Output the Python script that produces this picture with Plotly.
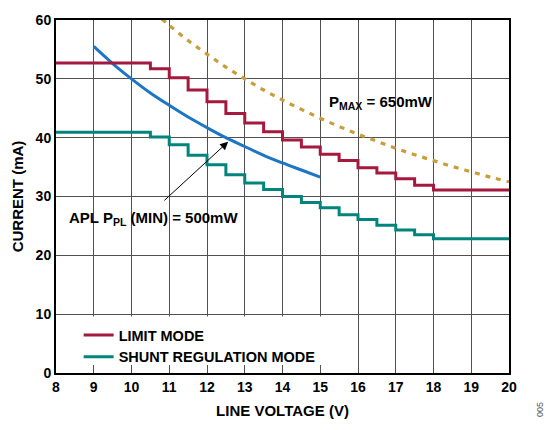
import plotly.graph_objects as go

# ---- data ----
limit_v = [8, 10.5, 11, 11.5, 12, 12.5, 13, 13.5, 14, 14.5, 15, 15.5, 16, 16.5, 17, 17.5, 18, 20]
limit_i = [52.7, 51.7, 50.2, 48.1, 46.1, 44.1, 42.5, 41.0, 39.6, 38.4, 37.2, 36.1, 34.9, 34.0, 33.0, 31.9, 31.1, 31.1]

shunt_v = [8, 10.5, 11, 11.5, 12, 12.5, 13, 13.5, 14, 14.5, 15, 15.5, 16, 16.5, 17, 17.5, 18, 20]
shunt_i = [40.9, 40.1, 38.8, 37.0, 35.4, 33.7, 32.3, 31.2, 30.0, 29.0, 28.1, 26.9, 26.1, 25.1, 24.3, 23.5, 22.8, 22.8]

apl_v = [9, 9.5, 10, 10.5, 11, 11.5, 12, 12.5, 13, 13.5, 14, 14.5, 15]
apl_i = [55.5, 52.6, 50.0, 47.6, 45.5, 43.5, 41.7, 40.0, 38.5, 37.0, 35.7, 34.5, 33.3]

pmax_v = [10.8, 11, 11.5, 12, 12.5, 13, 13.5, 14, 14.5, 15, 15.5, 16, 16.5, 17, 17.5, 18, 18.5, 19, 19.5, 20]
pmax_i = [60.2, 59.1, 56.5, 54.2, 52.0, 50.0, 48.1, 46.4, 44.8, 43.3, 41.9, 40.6, 39.4, 38.2, 37.1, 36.1, 35.1, 34.2, 33.3, 32.5]

x_ticks = list(range(8, 21))
y_ticks = [0, 10, 20, 30, 40, 50, 60]

RED = "#A5193F"
TEAL = "#00847B"
BLUE = "#1D76C4"
GOLD = "#C79E3A"
GRID = "#505050"
FONT = "Liberation Sans, Arial, sans-serif"

fig = go.Figure()

fig.add_trace(go.Scatter(x=pmax_v, y=pmax_i, mode="lines", line=dict(color=GOLD, width=3.2, dash="5px,6px", shape="spline"),
                         showlegend=False, hoverinfo="skip"))
fig.add_trace(go.Scatter(x=apl_v, y=apl_i, mode="lines", line=dict(color=BLUE, width=3, shape="spline"),
                         showlegend=False, hoverinfo="skip"))
fig.add_trace(go.Scatter(x=limit_v, y=limit_i, mode="lines", name="LIMIT MODE",
                         line=dict(color=RED, width=3, shape="hv")))
fig.add_trace(go.Scatter(x=shunt_v, y=shunt_i, mode="lines", name="SHUNT REGULATION MODE",
                         line=dict(color=TEAL, width=3, shape="hv")))

# white box behind legend (covers gridlines)
fig.add_shape(type="rect", xref="x", yref="y", x0=8, x1=15.4, y0=0.4, y1=9.6,
              fillcolor="white", line=dict(width=0), layer="between")

fig.add_annotation(x=15.17, y=45.9, xref="x", yref="y", text="P<sub>MAX</sub> = 650mW",
                   showarrow=False, xanchor="left", yanchor="middle",
                   font=dict(family=FONT, size=15, color="black", weight="bold"))
fig.add_annotation(x=8.3, y=26.2, xref="x", yref="y", text="APL P<sub>PL</sub> (MIN) = 500mW",
                   showarrow=False, xanchor="left", yanchor="middle",
                   font=dict(family=FONT, size=15, color="black", weight="bold"))
fig.add_annotation(x=12.56, y=39.3, ax=10.83, ay=29.1, xref="x", yref="y", axref="x", ayref="y",
                   text="", showarrow=True, arrowhead=2, arrowsize=1.6, arrowwidth=1, arrowcolor="black")
fig.add_annotation(x=1.068, y=-0.1025, xref="paper", yref="paper", text="005", showarrow=False,
                   xanchor="center", yanchor="middle",
                   textangle=-90, font=dict(family=FONT, size=9, color="#555"))

fig.update_xaxes(range=[8, 20], tickvals=x_ticks, ticktext=[str(v) for v in x_ticks],
                 showgrid=True, gridcolor=GRID, gridwidth=1.2,
                 showline=True, linecolor="black", linewidth=2, mirror=True,
                 ticks="inside", ticklen=8, tickcolor=GRID, tickwidth=1.2,
                 zeroline=False, fixedrange=True,
                 tickfont=dict(family=FONT, size=14, color="black", weight="bold"),
                 title=dict(text="LINE VOLTAGE (V)", standoff=12,
                            font=dict(family=FONT, size=15, color="black", weight="bold")))
fig.update_yaxes(range=[0, 60], tickvals=y_ticks,
                 showgrid=True, gridcolor=GRID, gridwidth=1.2,
                 showline=True, linecolor="black", linewidth=2, mirror=True,
                 ticks="", zeroline=False, fixedrange=True,
                 tickfont=dict(family=FONT, size=14, color="black", weight="bold"),
                 title=dict(text="CURRENT (mA)", standoff=8,
                            font=dict(family=FONT, size=15, color="black", weight="bold")))

fig.update_layout(
    width=546, height=430,
    margin=dict(l=56, r=37, t=12, b=57),
    paper_bgcolor="white", plot_bgcolor="white",
    showlegend=True,
    legend=dict(x=0.05, y=0.0, xanchor="left", yanchor="bottom", bgcolor="rgba(0,0,0,0)",
                font=dict(family=FONT, size=14.5, color="black", weight="bold"),
                tracegroupgap=0, itemwidth=30),
)

fig.write_html("out.html")
